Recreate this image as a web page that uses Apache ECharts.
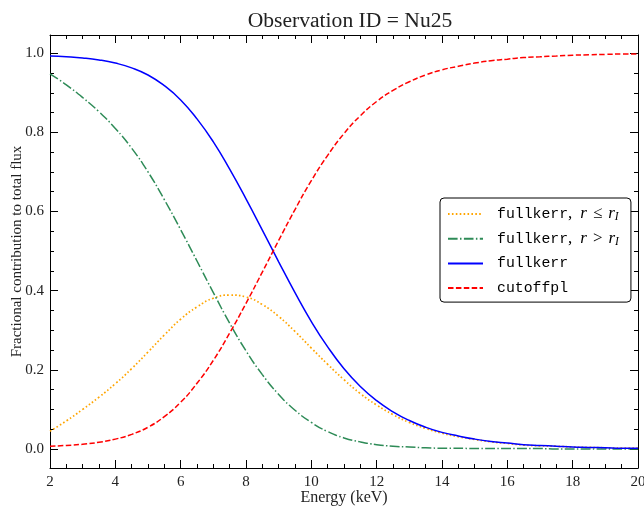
<!DOCTYPE html>
<html>
<head>
<meta charset="utf-8">
<script src="https://cdn.jsdelivr.net/npm/echarts@6/dist/echarts.min.js"></script>
<style>html,body{margin:0;padding:0;background:#fff}#c{width:644px;height:511px}</style>
</head>
<body>
<div id="c"></div>
<script>
const energy = [2,2.5,3,3.5,4,4.5,5,5.5,6,6.5,7,7.5,8,8.5,9,9.5,10,10.5,11,11.5,12,12.5,13,13.5,14,14.5,15,15.5,16,16.5,17,17.5,18,18.5,19,19.5,20];
const innerDisk = [0.045,0.071,0.100,0.131,0.165,0.203,0.245,0.288,0.328,0.359,0.381,0.389,0.384,0.365,0.335,0.297,0.255,0.214,0.175,0.140,0.111,0.087,0.067,0.052,0.040,0.031,0.024,0.018,0.014,0.010,0.008,0.007,0.005,0.004,0.003,0.002,0.002];
const outerDisk = [0.948,0.920,0.888,0.852,0.810,0.760,0.700,0.630,0.554,0.475,0.395,0.318,0.248,0.188,0.138,0.098,0.067,0.044,0.028,0.018,0.011,0.007,0.005,0.003,0.002,0.002,0.001,0.001,0.001,0.001,0.001,0.000,0.000,0.000,0.000,0.000,0.000];
const fullkerr = [0.993,0.991,0.988,0.983,0.975,0.963,0.945,0.918,0.882,0.834,0.776,0.707,0.632,0.553,0.473,0.395,0.322,0.258,0.203,0.158,0.122,0.094,0.072,0.055,0.042,0.033,0.025,0.019,0.015,0.011,0.009,0.007,0.005,0.004,0.003,0.002,0.002];
const cutoffpl = [0.007,0.009,0.012,0.017,0.025,0.037,0.055,0.082,0.118,0.166,0.224,0.293,0.368,0.447,0.527,0.605,0.678,0.742,0.797,0.842,0.878,0.906,0.928,0.945,0.958,0.967,0.975,0.981,0.985,0.989,0.991,0.993,0.995,0.996,0.997,0.998,0.998];
const yMajor = [0,0.2,0.4,0.6,0.8,1.0];
const yMinor = [0.05,0.1,0.15,0.25,0.3,0.35,0.45,0.5,0.55,0.65,0.7,0.75,0.85,0.9,0.95];
const names = ['inner','outer','full','cut'];
const legendText = {
  inner: '{g|}{m|fullkerr}{n|,}{sp|}{i|r}{rel|≤}{i|r}{s|I}',
  outer: '{g|}{m|fullkerr}{n|,}{sp|}{i|r}{rel|>}{i|r}{s|I}',
  full: '{g|}{m|fullkerr}',
  cut: '{g|}{m|cutoffpl}'
};
const pairs = arr => energy.map((e,i)=>[e,arr[i]]);
const serif = '"Liberation Serif", "DejaVu Serif", serif';
const txt = '#222';

function xAx(pos, showLabel){
  return {type:'value', position:pos, min:2, max:20, interval:2,
    axisLine:{show:true, onZero:false, lineStyle:{color:'#000', width:1}},
    axisTick:{show:true, inside:true, length:8, lineStyle:{color:'#000'}},
    minorTick:{show:true, splitNumber:4, length:4, lineStyle:{color:'#000'}},
    axisLabel:{show:showLabel, color:txt, fontFamily:serif, fontSize:15, margin:7},
    splitLine:{show:false},
    name: showLabel ? 'Energy (keV)' : '', nameLocation:'middle', nameGap:22, nameMoveOverlap:false,
    nameTextStyle:{color:txt, fontFamily:serif, fontSize:16}};
}
function yAx(pos, vals, len, showLabel, showLine){
  return {type:'value', position:pos, min:-0.048, max:1.046,
    axisLine:{show:showLine, onZero:false, lineStyle:{color:'#000', width:1}},
    axisTick:{show:true, inside:true, length:len, customValues:vals, lineStyle:{color:'#000'}},
    axisLabel:{show:showLabel, customValues:vals, color:txt, fontFamily:serif, fontSize:15, margin:6,
      formatter: v => Number(v).toFixed(1)},
    splitLine:{show:false},
    name: showLabel ? 'Fractional contribution to total flux' : '', nameLocation:'middle', nameGap:25, nameMoveOverlap:false,
    nameTextStyle:{color:txt, fontFamily:serif, fontSize:15}};
}

const chart = echarts.init(document.getElementById('c'), null, {renderer:'canvas'});
chart.setOption({
  animation:false,
  backgroundColor:'#fff',
  title:{text:'Observation ID = Nu25', left:345, textAlign:'center', top:5,
    textStyle:{color:txt, fontFamily:serif, fontSize:21.6, fontWeight:'normal'}},
  grid:{left:50, right:6, top:35, bottom:43, containLabel:false, outerBoundsMode:'none'},
  xAxis:[xAx('bottom', true), xAx('top', false)],
  yAxis:[yAx('left', yMajor, 8, true, true), yAx('right', yMajor, 8, false, true),
         yAx('left', yMinor, 4, false, false), yAx('right', yMinor, 4, false, false)],
  legend:{orient:'vertical', left:440, top:198, itemWidth:35, itemHeight:14, itemGap:6.7,
    padding:[7,12,5,7], borderColor:'#000', borderWidth:1, borderRadius:4, backgroundColor:'#fff',
    data:names,
    itemStyle:{color:'rgba(0,0,0,0)', borderWidth:0, opacity:0},
    formatter: n => legendText[n],
    textStyle:{color:'#000', fontSize:14, lineHeight:18, rich:{
      g:{width:9, lineHeight:18},
      sp:{width:8, lineHeight:18},
      m:{fontFamily:'"Liberation Mono", "DejaVu Sans Mono", monospace', fontSize:14.8, color:'#000', lineHeight:18},
      n:{fontFamily:serif, fontSize:17, color:'#000', lineHeight:18},
      rel:{fontFamily:serif, fontSize:17, color:'#000', lineHeight:18, padding:[0,6,0,6]},
      i:{fontFamily:serif, fontStyle:'italic', fontSize:17, color:'#000', lineHeight:18},
      s:{fontFamily:serif, fontStyle:'italic', fontSize:11.5, color:'#000', lineHeight:10, verticalAlign:'bottom'}
    }}},
  series:[
    {name:'inner', type:'line', data:pairs(innerDisk), symbol:'none', smooth:true, z:3,
      lineStyle:{color:'#FFA500', width:1.7, type:[1.6,2.3]}, itemStyle:{color:'#FFA500'}},
    {name:'outer', type:'line', data:pairs(outerDisk), symbol:'none', smooth:true, z:3,
      lineStyle:{color:'#2E8B57', width:1.5, type:[9.6,2.4,1.5,2.4]}, itemStyle:{color:'#2E8B57'}},
    {name:'full', type:'line', data:pairs(fullkerr), symbol:'none', smooth:true, z:3,
      lineStyle:{color:'#0000FF', width:1.5, type:'solid'}, itemStyle:{color:'#0000FF'}},
    {name:'cut', type:'line', data:pairs(cutoffpl), symbol:'none', smooth:true, z:3,
      lineStyle:{color:'#FF0000', width:1.5, type:[5.5,2.4]}, itemStyle:{color:'#FF0000'}}
  ]
});
</script>
</body>
</html>
